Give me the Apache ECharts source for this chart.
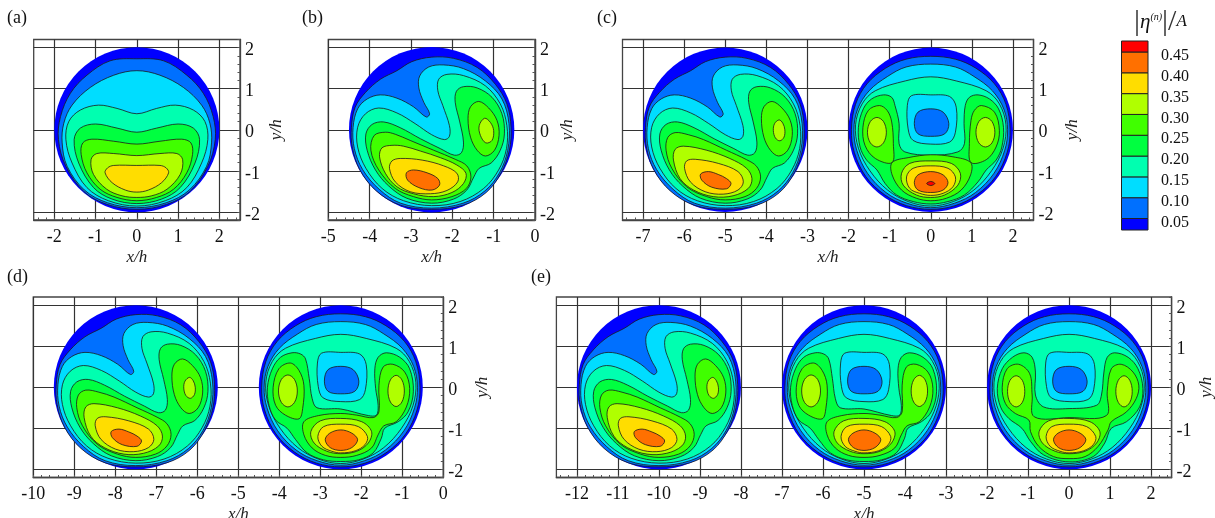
<!DOCTYPE html>
<html><head><meta charset="utf-8">
<script src="https://cdn.jsdelivr.net/npm/echarts@6/dist/echarts.min.js"></script>
<style>html,body{margin:0;background:#fff}#c{width:1215px;height:518px}</style></head>
<body><div id="c"></div>
<script>
const bandColors=['#0000ff','#0070ff','#00ddff','#00ffb0','#00ff40','#40ff00','#b0ff00','#ffdd00','#ff7000','#ff0000'];
const legendEdges=[0.0224,0.05,0.10,0.15,0.20,0.25,0.30,0.35,0.40,0.45,0.4764];
const legendTicks=[0.05,0.10,0.15,0.20,0.25,0.30,0.35,0.40,0.45];

// panel (a), contours in x/h, y/h about the circle centre
const mirror=p=>p.concat(p.slice(1,-1).reverse().map(q=>[-q[0],q[1]]));
const a0=mirror([[0,1.73],[-.65,1.68],[-1.21,1.33],[-1.61,.89],[-1.85,.32],[-1.90,-.24],[-1.72,-.89],[-1.28,-1.51],[-.72,-1.82],[0,-1.94]]);
const a1=mirror([[0,1.44],[-.56,1.33],[-1.13,1.03],[-1.57,.60],[-1.77,.16],[-1.81,-.32],[-1.69,-.89],[-1.27,-1.47],[-.71,-1.78],[0,-1.90]]);
const a2=mirror([[0,.39],[-.48,.52],[-.93,.60],[-1.37,.48],[-1.65,.20],[-1.72,-.24],[-1.57,-.81],[-1.21,-1.41],[-.69,-1.73],[0,-1.86]]);
const a3=mirror([[0,-.06],[-.48,.04],[-1.0,.14],[-1.37,.04],[-1.52,-.24],[-1.41,-.81],[-1.05,-1.41],[-.60,-1.69],[0,-1.80]]);
const a4=mirror([[0,-.35],[-.56,-.28],[-1.09,-.23],[-1.31,-.32],[-1.35,-.60],[-1.21,-1.05],[-.89,-1.45],[-.48,-1.65],[0,-1.73]]);
const a5=mirror([[0,-.63],[-.56,-.58],[-.97,-.58],[-1.11,-.73],[-1.05,-1.09],[-.73,-1.45],[-.36,-1.61],[0,-1.65]]);
const a6=mirror([[0,-.87],[-.56,-.87],[-.71,-.93],[-.77,-1.05],[-.60,-1.29],[-.28,-1.47],[0,-1.52]]);

// asymmetric circle (left in each panel)
const l0=[[0,1.77],[.53,1.74],[1.10,1.52],[1.54,1.11],[1.82,.63],[1.92,.06],[1.88,-.50],[1.68,-1.05],[1.32,-1.53],[.76,-1.84],[0,-1.94],[-.75,-1.84],[-1.34,-1.49],[-1.74,-.97],[-1.92,-.42],[-1.94,.06],[-1.85,.55],[-1.60,.91],[-1.24,1.23],[-.84,1.44],[-.48,1.66]];
const l1=[[-1.24,.85],[-1.56,.75],[-1.79,.51],[-1.90,.06],[-1.87,-.46],[-1.67,-.97],[-1.27,-1.45],[-.75,-1.79],[0,-1.91],[.76,-1.79],[1.29,-1.49],[1.64,-1.05],[1.84,-.50],[1.87,.15],[1.70,.75],[1.30,1.19],[.77,1.49],[.29,1.58],[-.07,1.53],[-.29,1.31],[-.31,1.02],[-.19,.67],[-.05,.39],[-.13,.31],[-.44,.56],[-.84,.77]];
const l2=[[-1.28,.53],[-1.60,.39],[-1.79,.06],[-1.79,-.42],[-1.59,-.94],[-1.20,-1.43],[-.68,-1.73],[0,-1.85],[.69,-1.75],[1.26,-1.43],[1.62,-.98],[1.81,-.46],[1.82,.10],[1.66,.63],[1.30,1.07],[.77,1.32],[.37,1.35],[.17,1.23],[.15,.95],[.27,.59],[.43,.10],[.43,-.16],[.31,-.24],[0,-.12],[-.40,.15],[-.84,.41]];
const l3=[[-1.16,.19],[-1.44,.13],[-1.59,-.10],[-1.56,-.50],[-1.36,-.98],[-1.04,-1.37],[-.60,-1.67],[0,-1.79],[.53,-1.69],[.85,-1.47],[1.02,-1.15],[1.15,-.94],[1.44,-.81],[1.66,-.50],[1.76,-.10],[1.70,.39],[1.46,.79],[1.10,1.02],[.77,1.05],[.60,.94],[.57,.67],[.68,.19],[.77,-.30],[.72,-.56],[.55,-.62],[.21,-.46],[-.27,-.22],[-.76,.05]];
const l4lobe=[[1.14,.69],[.94,.56],[.88,.27],[.94,-.18],[1.10,-.50],[1.30,-.64],[1.52,-.50],[1.63,-.14],[1.58,.23],[1.38,.53]];
const l4b=[[-1.12,-.06],[-1.39,-.14],[-1.47,-.50],[-1.28,-.98],[-.88,-1.43],[-.44,-1.63],[0,-1.71],[.49,-1.63],[.84,-1.43],[.95,-1.15],[.85,-.88],[.57,-.72],[.05,-.50],[-.52,-.26],[-.88,-.11]];
const l5b=[[-.96,-.38],[-1.20,-.44],[-1.26,-.66],[-1.12,-1.06],[-.84,-1.39],[-.44,-1.56],[.05,-1.63],[.49,-1.53],[.77,-1.31],[.83,-1.06],[.61,-.86],[.21,-.68],[-.27,-.52],[-.68,-.40]];
const l5lobeB=[[1.28,.28],[1.15,.10],[1.18,-.14],[1.31,-.32],[1.46,-.26],[1.50,-.02],[1.42,.18]];
const l6b=[[-.76,-.70],[-.96,-.76],[-1.02,-.94],[-.88,-1.27],[-.52,-1.51],[-.03,-1.56],[.37,-1.48],[.63,-1.27],[.61,-1.06],[.29,-.88],[-.23,-.74]];
const l7b=[[-.44,-.98],[-.61,-1.05],[-.58,-1.23],[-.31,-1.41],[.01,-1.47],[.19,-1.35],[.15,-1.19],[-.11,-1.05]];
const l4c=[[-1.22,-.07],[-1.40,-.19],[-1.44,-.50],[-1.30,-.94],[-.94,-1.39],[-.45,-1.63],[0,-1.71],[.48,-1.63],[.76,-1.43],[.86,-1.15],[.76,-.89],[.52,-.73],[.03,-.50],[-.53,-.24],[-.90,-.12]];
const l5c=[[-1.02,-.40],[-1.22,-.48],[-1.26,-.74],[-1.10,-1.19],[-.77,-1.47],[-.29,-1.63],[.19,-1.61],[.56,-1.43],[.65,-1.19],[.52,-.94],[.11,-.70],[-.45,-.50]];
const l5lobeC=[[1.31,.24],[1.2,.15],[1.17,-.02],[1.22,-.2],[1.33,-.27],[1.43,-.18],[1.45,0],[1.40,.16]];
const l6c=[[-.73,-.72],[-.94,-.76],[-.99,-.94],[-.85,-1.27],[-.49,-1.51],[-.05,-1.57],[.31,-1.47],[.44,-1.27],[.31,-1.02],[-.17,-.82]];
const l7c=[[-.41,-1.02],[-.60,-1.08],[-.57,-1.23],[-.33,-1.40],[.03,-1.44],[.14,-1.31],[.03,-1.19],[-.17,-1.09]];

// symmetric-looking circle (right in each panel)
const r0=mirror([[0,1.79],[-.6,1.72],[-1.1,1.5],[-1.55,1.12],[-1.83,.62],[-1.93,0],[-1.86,-.55],[-1.58,-1.14],[-1.13,-1.58],[-.59,-1.85],[0,-1.94]]);
const r1=mirror([[0,1.60],[-.6,1.53],[-1.05,1.3],[-1.5,.95],[-1.78,.5],[-1.87,0],[-1.80,-.5],[-1.54,-1.06],[-1.09,-1.53],[-.58,-1.79],[0,-1.90]]);
const r2=[[0,1.29],[.62,1.19],[1.35,.95],[1.67,.63],[1.83,.12],[1.76,-.45],[1.48,-1.0],[1.05,-1.47],[.55,-1.75],[0,-1.86],[-.55,-1.75],[-1.05,-1.47],[-1.48,-1.0],[-1.76,-.45],[-1.83,.12],[-1.67,.63],[-1.35,.95],[-.62,1.19]];
const rHole=[[0,.85],[-.47,.83],[-.57,.59],[-.55,.02],[-.43,-.26],[0,-.35],[.46,-.30],[.60,-.06],[.62,.55],[.46,.81]];
const rCore=[[0,.51],[-.31,.43],[-.40,.15],[-.31,-.10],[0,-.16],[.34,-.10],[.44,.15],[.30,.43]];
const r3c=[[-1.15,.85],[-1.44,.75],[-1.64,.51],[-1.76,.06],[-1.72,-.42],[-1.56,-.74],[-1.31,-.98],[-1.11,-1.31],[-.83,-1.59],[-.43,-1.75],[0,-1.81],[.42,-1.75],[.82,-1.59],[1.15,-1.27],[1.35,-.98],[1.59,-.74],[1.73,-.42],[1.77,.06],[1.65,.51],[1.43,.75],[1.15,.85],[.94,.79],[.84,.59],[.81,.15],[.82,-.34],[.66,-.54],[0,-.62],[-.63,-.54],[-.77,-.34],[-.77,.15],[-.87,.59],[-.95,.79]];
const r4cL=[[-1.25,.59],[-1.52,.47],[-1.65,.06],[-1.60,-.38],[-1.35,-.70],[-.94,-.80],[-.91,-.34],[-.95,.19],[-1.06,.47]];
const r4cR=[[1.23,.59],[1.55,.43],[1.67,-.02],[1.59,-.42],[1.35,-.73],[.98,-.80],[.94,-.34],[.98,.23],[1.06,.47]];
const r4cB=[[0,-.61],[-.55,-.68],[-.94,-.80],[-.94,-1.10],[-.71,-1.47],[-.35,-1.67],[0,-1.73],[.38,-1.67],[.74,-1.47],[.97,-1.10],[.97,-.80],[.54,-.66]];
const r5cL=[[-1.31,.30],[-1.47,.20],[-1.54,-.06],[-1.47,-.32],[-1.31,-.42],[-1.15,-.32],[-1.08,-.06],[-1.15,.20]];
const r5cR=[[1.33,.30],[1.17,.20],[1.10,-.06],[1.17,-.32],[1.33,-.42],[1.49,-.32],[1.56,-.06],[1.49,.20]];
const r5cB=[[0,-.76],[-.51,-.82],[-.71,-1.06],[-.67,-1.35],[-.35,-1.59],[0,-1.65],[.34,-1.59],[.66,-1.35],[.72,-1.06],[.50,-.82]];
const r6c=[[0,-.88],[-.43,-.94],[-.59,-1.15],[-.51,-1.43],[-.27,-1.55],[0,-1.60],[.30,-1.55],[.54,-1.39],[.60,-1.15],[.42,-.94]];
const r7c=[[0,-1.02],[-.31,-1.10],[-.40,-1.29],[-.31,-1.47],[0,-1.53],[.30,-1.47],[.42,-1.29],[.30,-1.10]];
const r8c=[[0,-1.26],[.1,-1.31],[0,-1.36],[-.1,-1.31]];

const r3d=[[-1.19,.84],[-1.47,.73],[-1.67,.45],[-1.79,0],[-1.75,-.44],[-1.59,-.80],[-1.31,-1.0],[-1.10,-1.28],[-.82,-1.60],[-.42,-1.77],[0,-1.81],[.43,-1.77],[.79,-1.60],[.99,-1.24],[1.07,-1.0],[1.40,-.84],[1.64,-.60],[1.77,-.11],[1.68,.45],[1.44,.73],[1.11,.84],[.91,.73],[.83,.45],[.85,-.03],[.91,-.44],[.87,-.68],[.67,-.69],[0,-.53],[-.58,-.50],[-.70,-.27],[-.77,.21],[-.86,.69],[-.98,.81]];
const r4dL=[[-1.23,.59],[-1.51,.45],[-1.65,0],[-1.59,-.44],[-1.35,-.68],[-1.02,-.77],[-.93,-.52],[-.90,.05],[-1.02,.41]];
const r4dB=[[-.90,-.84],[-.90,-1.16],[-.70,-1.48],[-.38,-1.66],[0,-1.71],[.39,-1.66],[.75,-1.48],[.91,-1.16],[1.05,-.94],[1.35,-.84],[1.60,-.48],[1.68,-.03],[1.56,.37],[1.27,.56],[1.03,.49],[.93,.05],[.93,-.60],[.79,-.74],[.39,-.68],[0,-.64],[-.54,-.69]];
const r5dL=[[-1.29,.30],[-1.45,.19],[-1.52,-.09],[-1.45,-.37],[-1.29,-.48],[-1.13,-.37],[-1.06,-.09],[-1.13,.19]];
const r5dR=[[1.35,.29],[1.21,.18],[1.15,-.09],[1.21,-.36],[1.35,-.47],[1.49,-.36],[1.55,-.09],[1.49,.18]];
const r5dB=[[0,-.76],[-.50,-.82],[-.73,-1.08],[-.65,-1.36],[-.34,-1.56],[0,-1.62],[.39,-1.56],[.67,-1.36],[.75,-1.08],[.51,-.84]];
const r6d=[[0,-.90],[-.42,-.96],[-.56,-1.20],[-.46,-1.44],[-.22,-1.56],[0,-1.60],[.35,-1.55],[.59,-1.40],[.65,-1.20],[.43,-.96]];
const r7d=[[0,-1.04],[-.27,-1.12],[-.38,-1.28],[-.26,-1.47],[0,-1.54],[.27,-1.47],[.41,-1.28],[.27,-1.12]];

const r3e=[[-1.10,.84],[-1.38,.73],[-1.63,.45],[-1.75,-.03],[-1.67,-.48],[-1.47,-.76],[-1.15,-1.0],[-.94,-1.32],[-.62,-1.65],[0,-1.82],[.59,-1.69],[.87,-1.36],[1.03,-1.0],[1.40,-.84],[1.72,-.48],[1.80,-.03],[1.68,.45],[1.44,.73],[1.11,.84],[.93,.73],[.85,.37],[.79,-.19],[.67,-.44],[0,-.52],[-.62,-.48],[-.82,-.19],[-.82,.37],[-.90,.73]];
const r4e=[[-1.23,.56],[-1.51,.45],[-1.63,0],[-1.55,-.40],[-1.31,-.64],[-.98,-.80],[-.94,-1.08],[-.74,-1.44],[-.38,-1.69],[0,-1.74],[.39,-1.69],[.71,-1.44],[.95,-1.04],[1.03,-.84],[1.40,-.60],[1.64,-.27],[1.70,.05],[1.56,.37],[1.27,.56],[1.03,.45],[.93,-.11],[.91,-.69],[0,-.74],[-.85,-.72],[-.90,-.19],[-.96,.33]];
const r5eL=[[-1.29,.28],[-1.44,.17],[-1.50,-.10],[-1.44,-.37],[-1.29,-.48],[-1.14,-.37],[-1.08,-.10],[-1.14,.17]];
const r5eR=[[1.34,.28],[1.20,.17],[1.14,-.10],[1.20,-.37],[1.34,-.48],[1.48,-.37],[1.54,-.10],[1.48,.17]];

// polygons in drawing order: [band colour index, points]
const shapeA=[[1,a0],[2,a1],[3,a2],[4,a3],[5,a4],[6,a5],[7,a6]];
const leftCommon=[[1,l0],[2,l1],[3,l2],[4,l3],[5,l4lobe]];
const shapeLeftB=leftCommon.concat([[5,l4b],[6,l5b],[6,l5lobeB],[7,l6b],[8,l7b]]);
const shapeLeft=leftCommon.concat([[5,l4c],[6,l5c],[6,l5lobeC],[7,l6c],[8,l7c]]);
const rightCommon=[[1,r0],[2,r1],[3,r2],[2,rHole],[1,rCore]];
const shapeRightC=rightCommon.concat([[4,r3c],[5,r4cL],[5,r4cR],[5,r4cB],[6,r5cL],[6,r5cR],[6,r5cB],[7,r6c],[8,r7c],[9,r8c]]);
const shapeRightD=rightCommon.concat([[4,r3d],[5,r4dL],[5,r4dB],[6,r5dL],[6,r5dR],[6,r5dB],[7,r6d],[8,r7d]]);
const shapeRightE=rightCommon.concat([[4,r3e],[5,r4e],[6,r5eL],[6,r5eR],[6,r5dB],[7,r6d],[8,r7d]]);

const panels=[
 {tag:'(a)',tagX:7,tagY:9,x:[-2.5,2.5],frame:[33.7,39.5,206.3,180.5],nameGap:28,circles:[[0,shapeA]]},
 {tag:'(b)',tagX:302,tagY:9,x:[-5,0],frame:[328.3,39.5,206.7,180.5],nameGap:24,circles:[[-2.5,shapeLeftB]]},
 {tag:'(c)',tagX:597,tagY:9,x:[-7.5,2.5],frame:[622.5,39.5,411,180.5],nameGap:31,circles:[[-5,shapeLeft],[0,shapeRightC]]},
 {tag:'(d)',tagX:7,tagY:268,x:[-10,0],frame:[33.3,297,410,180.5],nameGap:31,circles:[[-7.5,shapeLeft],[-2.5,shapeRightD]]},
 {tag:'(e)',tagX:531,tagY:268,x:[-12.5,2.5],frame:[556.4,297,615.2,180.5],nameGap:26,circles:[[-10,shapeLeft],[-5,shapeRightD],[0,shapeRightE]]}
];
const yRange=[-2.2,2.2];
const yTicks=[-2,-1,0,1,2];
const circleRadius=2;

const serif='"Liberation Serif","Times New Roman",serif';
const ink='#333';
const grids=[],xAxes=[],yAxes=[],series=[],titles=[];
function range(a,b,step){const o=[];const n=Math.round((b-a)/step);for(let i=0;i<=n;i++)o.push(+(a+i*step).toFixed(3));return o;}

panels.forEach((p,i)=>{
  grids.push({left:p.frame[0],top:p.frame[1],width:p.frame[2],height:p.frame[3],show:true,outerBoundsMode:'none',borderColor:'#444',borderWidth:1.3,backgroundColor:'#fff'});
  const xT=range(Math.ceil(p.x[0]),Math.floor(p.x[1]),1);
  const xMinor=range(Math.ceil(p.x[0]*5)/5,Math.floor(p.x[1]*5)/5,0.2);
  const yMinor=range(-2.2,2.2,0.2);
  xAxes.push({gridIndex:i,type:'value',min:p.x[0],max:p.x[1],position:'bottom',name:'x/h',nameLocation:'middle',nameGap:29,
    nameTextStyle:{fontFamily:serif,fontStyle:'italic',fontSize:17,color:'#222'},
    axisLine:{show:true,onZero:false,lineStyle:{color:'#444',width:1.3}},axisTick:{show:false,customValues:xT},
    axisLabel:{customValues:xT,margin:8,fontFamily:serif,fontSize:18,color:'#111',hideOverlap:false},
    splitLine:{show:true,lineStyle:{color:ink,width:1.2}}});
  xAxes.push({gridIndex:i,type:'value',min:p.x[0],max:p.x[1],position:'bottom',axisLine:{show:false,onZero:false},
    axisTick:{show:true,inside:true,length:2.5,customValues:xMinor,lineStyle:{color:'#555',width:1}},axisLabel:{show:false},splitLine:{show:false}});
  yAxes.push({gridIndex:i,type:'value',min:yRange[0],max:yRange[1],position:'right',name:'y/h',nameLocation:'middle',nameGap:p.nameGap,nameRotate:90,nameMoveOverlap:false,
    nameTextStyle:{fontFamily:serif,fontStyle:'italic',fontSize:17,color:'#222'},
    axisLine:{show:true,onZero:false,lineStyle:{color:'#444',width:1.3}},axisTick:{show:false,customValues:yTicks},
    axisLabel:{customValues:yTicks,margin:5,verticalAlign:'top',lineHeight:6,fontFamily:serif,fontSize:18,color:'#111',hideOverlap:false},
    splitLine:{show:true,lineStyle:{color:ink,width:1.2}}});
  yAxes.push({gridIndex:i,type:'value',min:yRange[0],max:yRange[1],position:'right',axisLine:{show:false,onZero:false},
    axisTick:{show:true,inside:true,length:2.5,customValues:yMinor,lineStyle:{color:'#555',width:1}},axisLabel:{show:false},splitLine:{show:false}});
  titles.push({text:p.tag,left:p.tagX,top:p.tagY,padding:0,textStyle:{fontFamily:serif,fontWeight:'normal',fontSize:18,color:'#111'}});

  const items=[];
  p.circles.forEach(c=>{
    items.push({kind:'disc',cx:c[0]});
    c[1].forEach(s=>items.push({kind:'poly',cx:c[0],band:s[0],pts:s[1]}));
  });
  series.push({type:'custom',coordinateSystem:'cartesian2d',xAxisIndex:2*i,yAxisIndex:2*i,clip:false,silent:true,z:3,
    data:items.map(it=>[it.cx,0]),encode:{x:0,y:1},
    renderItem(params,api){
      const it=items[params.dataIndex];
      if(it.kind==='disc'){
        const c=api.coord([it.cx,0]);
        const r=api.size([circleRadius,0])[0];
        return {type:'circle',shape:{cx:c[0],cy:c[1],r:r},style:{fill:bandColors[0]}};
      }
      return {type:'polygon',shape:{points:it.pts.map(q=>api.coord([it.cx+q[0],q[1]])),smooth:0.35},
        style:{fill:bandColors[it.band],stroke:'#1a1a1a',lineWidth:0.8}};
    }});
});

// colour bar
const L=panels.length;
grids.push({left:1121.5,top:41,width:26.5,height:189,show:false,outerBoundsMode:'none'});
xAxes.push({gridIndex:L,type:'value',min:0,max:1,show:false});
yAxes.push({gridIndex:L,type:'value',min:legendEdges[0],max:legendEdges[10],position:'right',
  axisLine:{show:false},axisTick:{show:false,customValues:legendTicks},splitLine:{show:false},
  axisLabel:{customValues:legendTicks,margin:13,verticalAlign:'top',lineHeight:8,formatter:v=>v.toFixed(2),fontFamily:serif,fontSize:16,color:'#111',hideOverlap:false}});
series.push({type:'custom',coordinateSystem:'cartesian2d',xAxisIndex:2*L,yAxisIndex:2*L,silent:true,
  data:bandColors.map((c,i)=>[0,legendEdges[i],1,legendEdges[i+1]]),encode:{x:[0,2],y:[1,3]},
  renderItem(params,api){
    const a=api.coord([api.value(0),api.value(1)]),b=api.coord([api.value(2),api.value(3)]);
    return {type:'rect',shape:{x:a[0],y:b[1],width:b[0]-a[0],height:a[1]-b[1]},style:{fill:bandColors[params.dataIndex],stroke:'#222',lineWidth:1}};
  }});
titles.push({left:1134,top:7,padding:0,text:'{b||}{e|η}{s|(n)}{b||}{b|/}{a|A}',
  textStyle:{fontWeight:'normal',rich:{
    b:{fontFamily:serif,fontSize:30,fontWeight:'normal',color:'#333',lineHeight:30},
    e:{fontFamily:serif,fontStyle:'italic',fontSize:21,color:'#111',lineHeight:30},
    s:{fontFamily:serif,fontStyle:'italic',fontSize:10,color:'#111',padding:[0,0,10,0],lineHeight:30},
    a:{fontFamily:serif,fontStyle:'italic',fontSize:17,color:'#111',lineHeight:30}}}});

const chart=echarts.init(document.getElementById('c'),null,{renderer:'canvas'});
chart.setOption({animation:false,backgroundColor:'#fff',title:titles,grid:grids,xAxis:xAxes,yAxis:yAxes,series:series});
</script></body></html>
